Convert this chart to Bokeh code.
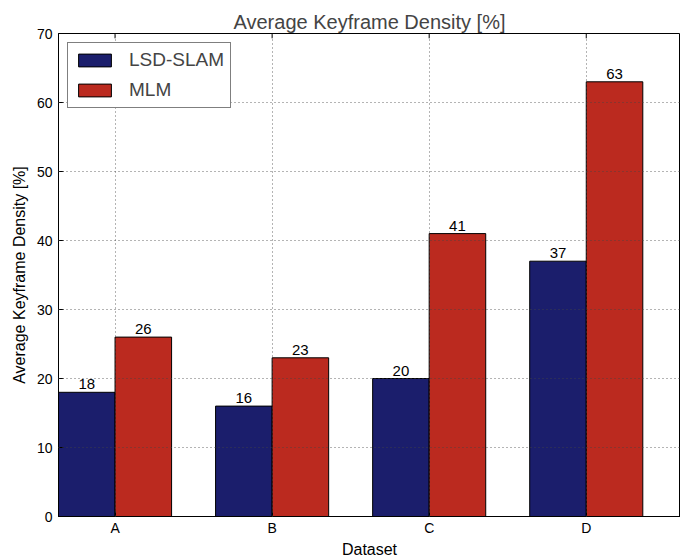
from bokeh.plotting import figure
from bokeh.models import ColumnDataSource, FixedTicker, Legend, LegendItem, LabelSet
from bokeh.core.properties import value
from bokeh.embed import file_html
from bokeh.resources import INLINE

datasets = ["A", "B", "C", "D"]
lsd_slam = [18, 16, 20, 37]
mlm = [26, 23, 41, 63]
y_ticks = [0, 10, 20, 30, 40, 50, 60, 70]

FONT = "Liberation Sans"
BLUE = "#1b1e6c"
RED = "#bb2a1f"

pos = list(range(1, len(datasets) + 1))
off = 0.18
bw = 0.36

p = figure(width=680, height=560, output_backend="svg", toolbar_location=None,
           x_range=(0.64, 4.6), y_range=(0, 70),
           min_border_left=58, min_border_right=0, min_border_top=33, min_border_bottom=43)

p.title.text = "Average Keyframe Density [%]"
p.title.align = "center"
p.title.text_font = FONT
p.title.text_font_size = "20px"
p.title.text_font_style = "normal"
p.title.standoff = 2
p.title.offset = 0

src_b = ColumnDataSource(dict(x=[v - off for v in pos], top=lsd_slam, lab=[str(v) for v in lsd_slam]))
src_r = ColumnDataSource(dict(x=[v + off for v in pos], top=mlm, lab=[str(v) for v in mlm]))

rb = p.vbar(x="x", top="top", width=bw, source=src_b, fill_color=BLUE, line_color="black", line_width=1)
rr = p.vbar(x="x", top="top", width=bw, source=src_r, fill_color=RED, line_color="black", line_width=1)

for src in (src_b, src_r):
    p.add_layout(LabelSet(x="x", y="top", text="lab", source=src, text_align="center",
                          text_baseline="bottom", y_offset=3, text_font=value(FONT),
                          text_font_size=value("15px"), text_color=value("black")))

# top inward ticks
p.segment(x0=pos, x1=pos, y0=[70] * 4, y1=[69.3] * 4, line_color="black", line_width=1)

p.xaxis.ticker = FixedTicker(ticks=pos)
p.xaxis.major_label_overrides = {i: d for i, d in zip(pos, datasets)}
p.yaxis.ticker = FixedTicker(ticks=y_ticks)
for ax in (p.xaxis, p.yaxis):
    ax.major_tick_in = 5
    ax.major_tick_out = 0
    ax.minor_tick_in = 0
    ax.minor_tick_out = 0
    ax.major_label_text_font = FONT
    ax.major_label_text_font_size = "14px"
    ax.major_label_text_color = "black"
    ax.axis_label_text_font = FONT
    ax.axis_label_text_font_size = "16px"
    ax.axis_label_text_font_style = "normal"
    ax.axis_label_text_color = "black"
    ax.axis_line_color = "black"
    ax.major_tick_line_color = "black"
p.xaxis.axis_label = "Dataset"
p.yaxis.axis_label = "Average Keyframe Density [%]"
p.xaxis.major_label_standoff = 3
p.yaxis.major_label_standoff = 6
p.xaxis.axis_label_standoff = 2
p.yaxis.axis_label_standoff = 6

for g in (p.xgrid, p.ygrid):
    g.grid_line_color = "#444444"
    g.grid_line_dash = "1 3"
    g.grid_line_alpha = 0.8
    g.level = "guide"
p.xgrid.ticker = FixedTicker(ticks=pos)
p.ygrid.ticker = FixedTicker(ticks=y_ticks)

p.outline_line_color = "black"
p.outline_line_alpha = 1

legend = Legend(items=[LegendItem(label="LSD-SLAM", renderers=[rb]),
                       LegendItem(label="MLM", renderers=[rr])],
                location="top_left")
legend.margin = 9
legend.padding = 6
legend.spacing = 8
legend.glyph_width = 41
legend.glyph_height = 16
legend.label_text_font = FONT
legend.label_text_font_size = "19px"
legend.label_standoff = 14
legend.border_line_color = "black"
legend.border_line_width = 1
legend.background_fill_alpha = 1
p.add_layout(legend)

open("out.html", "w").write(file_html(p, INLINE))
